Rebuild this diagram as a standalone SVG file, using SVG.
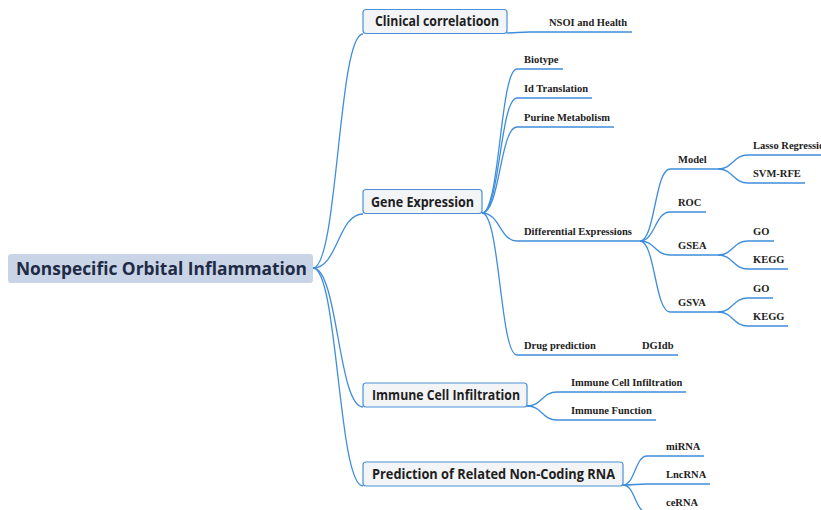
<svg xmlns="http://www.w3.org/2000/svg" width="821" height="510" viewBox="0 0 821 510">
<style>
.c{fill:none;stroke:#3f8ddc;stroke-width:1.3}
.box{fill:#f3f4f6;stroke:#4a90d9;stroke-width:1.2}
.bt{font-family:"Open Sans","Noto Sans","Liberation Sans",sans-serif;font-weight:bold;font-size:14px;fill:#1e1e1e}
.lt{font-family:"Liberation Serif","DejaVu Serif",serif;font-weight:bold;font-size:10.5px;fill:#222}
</style>
<rect width="821" height="510" fill="#ffffff"/>
<g id="connectors">
<path class="c" d="M313,268 C338,268 338,34 363,34"/>
<path class="c" d="M313,268 C338,268 338,214 363,214"/>
<path class="c" d="M313,268 C338,268 338,407 363,407"/>
<path class="c" d="M313,268 C338,268 338,486 363,486"/>
<path class="c" d="M507,33 C518,33 518,32 530,32 L632,32"/>
<path class="c" d="M482,213 C500,213 500,69 517,69 L563,69"/>
<path class="c" d="M482,213 C500,213 500,98 517,98 L592,98"/>
<path class="c" d="M482,213 C500,213 500,127 517,127 L614,127"/>
<path class="c" d="M482,213 C500,213 500,241 517,241 L640,241"/>
<path class="c" d="M482,213 C500,213 500,355 517,355 L636,355"/>
<path class="c" d="M636,355 L678,355"/>
<path class="c" d="M640,241 C655,241 655,169 670,169 L718,169"/>
<path class="c" d="M640,241 C655,241 655,212 670,212 L706,212"/>
<path class="c" d="M640,241 C655,241 655,255 670,255 L718,255"/>
<path class="c" d="M640,241 C655,241 655,312 670,312 L718,312"/>
<path class="c" d="M718,169 C733,169 733,155 748,155 L821,155"/>
<path class="c" d="M718,169 C733,169 733,183 748,183 L805,183"/>
<path class="c" d="M718,255 C733,255 733,241 748,241 L774,241"/>
<path class="c" d="M718,255 C733,255 733,269 748,269 L788,269"/>
<path class="c" d="M718,312 C733,312 733,298 748,298 L773,298"/>
<path class="c" d="M718,312 C733,312 733,326 748,326 L788,326"/>
<path class="c" d="M527,406 C542,406 542,392 557,392 L686,392"/>
<path class="c" d="M527,406 C542,406 542,420 557,420 L656,420"/>
<path class="c" d="M623,485 C635,485 635,456 647,456 L704,456"/>
<path class="c" d="M623,485 C635,485 635,484 647,484 L710,484"/>
<path class="c" d="M623,485 C635,485 635,512 647,512 L705,512"/>
</g>
<g id="root">
<rect x="8" y="254" width="305" height="29" rx="3" fill="#c9d4e7"/>
<text x="16" y="275" font-family="'Open Sans','Noto Sans','Liberation Sans',sans-serif" font-weight="bold" font-size="18" fill="#1f2b45" textLength="291" lengthAdjust="spacingAndGlyphs">Nonspecific Orbital Inflammation</text>
</g>
<g id="clinical">
<rect class="box" x="363" y="9.5" width="144" height="24" rx="3"/>
<text class="bt" x="375" y="26" textLength="124" lengthAdjust="spacingAndGlyphs">Clinical correlatioon</text>
</g>
<g id="nsoi"><text class="lt" x="549" y="26">NSOI and Health</text></g>
<g id="gene">
<rect class="box" x="363" y="189.5" width="119" height="24" rx="3"/>
<text class="bt" x="371" y="207" textLength="103" lengthAdjust="spacingAndGlyphs">Gene Expression</text>
</g>
<g id="biotype"><text class="lt" x="524" y="63">Biotype</text></g>
<g id="idtrans"><text class="lt" x="524" y="92">Id Translation</text></g>
<g id="purine"><text class="lt" x="524" y="121">Purine Metabolism</text></g>
<g id="diff"><text class="lt" x="524" y="235">Differential Expressions</text></g>
<g id="drug"><text class="lt" x="524" y="349">Drug prediction</text></g>
<g id="dgidb"><text class="lt" x="642" y="349">DGIdb</text></g>
<g id="model"><text class="lt" x="678" y="163">Model</text></g>
<g id="lasso"><text class="lt" x="753" y="149">Lasso Regression</text></g>
<g id="svm"><text class="lt" x="753" y="177">SVM-RFE</text></g>
<g id="roc"><text class="lt" x="678" y="206">ROC</text></g>
<g id="gsea"><text class="lt" x="678" y="249">GSEA</text></g>
<g id="gsea-go"><text class="lt" x="753" y="235">GO</text></g>
<g id="gsea-kegg"><text class="lt" x="753" y="263">KEGG</text></g>
<g id="gsva"><text class="lt" x="678" y="306">GSVA</text></g>
<g id="gsva-go"><text class="lt" x="753" y="292">GO</text></g>
<g id="gsva-kegg"><text class="lt" x="753" y="320">KEGG</text></g>
<g id="immune">
<rect class="box" x="363" y="383" width="164" height="24" rx="3"/>
<text class="bt" x="372" y="400" textLength="148" lengthAdjust="spacingAndGlyphs">Immune Cell Infiltration</text>
</g>
<g id="immune-cell"><text class="lt" x="571" y="386">Immune Cell Infiltration</text></g>
<g id="immune-func"><text class="lt" x="571" y="414">Immune Function</text></g>
<g id="prediction">
<rect class="box" x="363" y="462" width="260" height="24" rx="3"/>
<text class="bt" x="372" y="479" textLength="243" lengthAdjust="spacingAndGlyphs">Prediction of Related Non-Coding RNA</text>
</g>
<g id="mirna"><text class="lt" x="666" y="450">miRNA</text></g>
<g id="lncrna"><text class="lt" x="666" y="478">LncRNA</text></g>
<g id="cerna"><text class="lt" x="666" y="506">ceRNA</text></g>
</svg>
